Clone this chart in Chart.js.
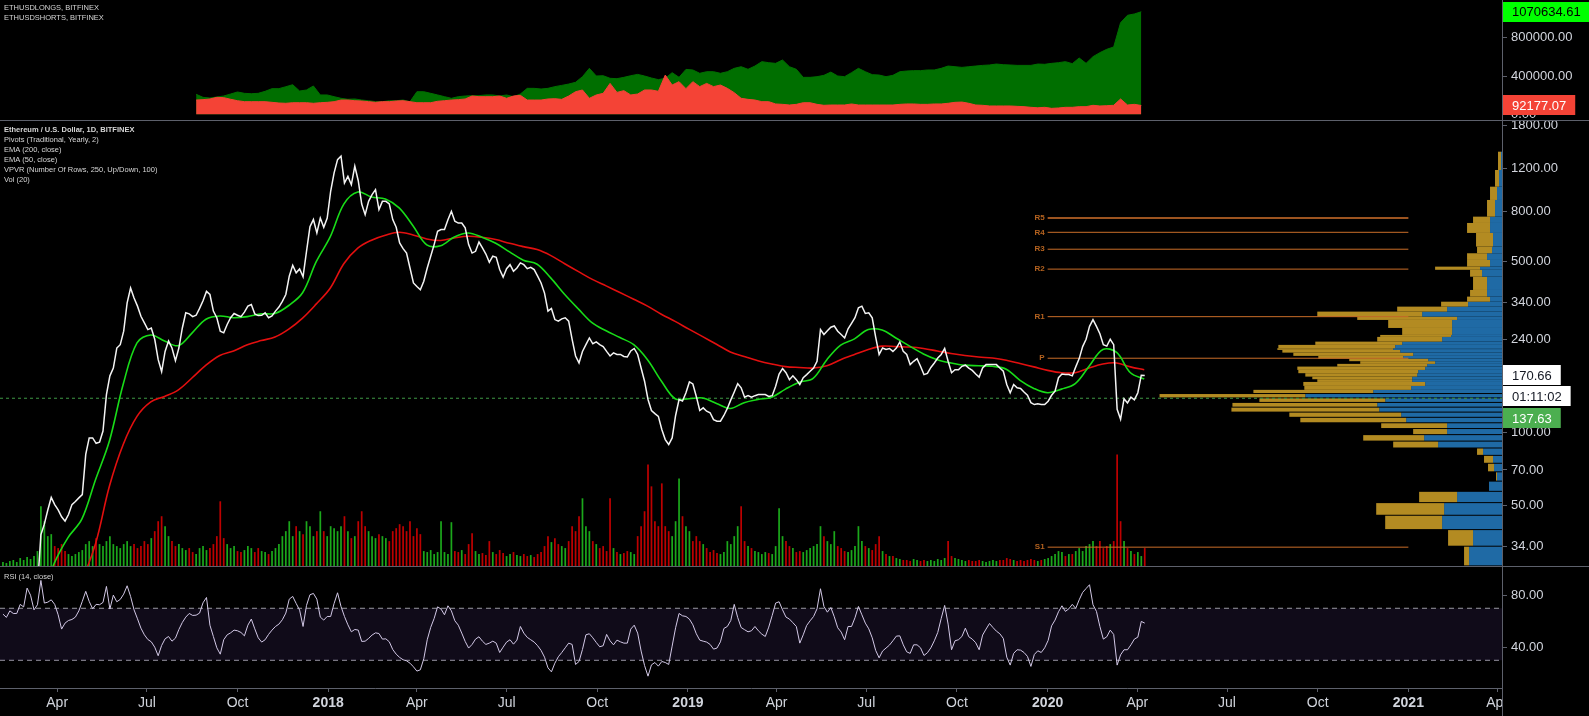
<!DOCTYPE html>
<html>
<head>
<meta charset="utf-8">
<script src="https://cdn.jsdelivr.net/npm/chart.js@4.4.1/dist/chart.umd.min.js"></script>
<style>
  html, body { margin: 0; background: #000; overflow: hidden; }
  #wrap { position: relative; width: 1589px; height: 716px; background: #000; }
  #wrap canvas { position: absolute; left: 0; }
  .sep { position: absolute; background: #5d606b; }
</style>
</head>
<body>
<div id="wrap">
  <canvas id="topChart" width="1589" height="120" style="top:0"></canvas>
  <canvas id="mainChart" width="1589" height="446" style="top:120px"></canvas>
  <canvas id="rsiChart" width="1589" height="150" style="top:566px"></canvas>
  <div class="sep" style="left:0;top:120px;width:1589px;height:1px"></div>
  <div class="sep" style="left:0;top:566px;width:1589px;height:1px"></div>
  <div class="sep" style="left:1502px;top:0;width:1px;height:716px"></div>
</div>
<script>
// ---- visible time range ----
const viewStart = "2017-02-02";
const viewEnd = "2021-04-06";

// ---- ETHUSD close, every 3.5 days from priceStart ----
const priceStart = "2017-02-05";
const priceStepDays = 3.5;
const priceClose = [
  11.3, 11.4, 11.6, 12.8, 12.9, 13.2, 15.4, 16.5, 19.2, 19.8,
  23, 38, 42, 48, 54, 50.5, 48, 45, 43.2, 46,
  50.5, 52, 53.8, 55.5, 81, 94.7, 94.7, 90, 91, 101,
  142.5, 170, 183, 221, 228, 259, 338, 389, 354, 328,
  298, 280, 263, 267, 240, 198, 177, 214, 236, 221,
  196, 221, 267, 308, 305, 297, 301, 321, 345, 377,
  366, 313, 294, 259, 255, 276, 294, 306, 301, 297,
  310, 328, 333, 305, 300, 301, 308, 294, 299, 313,
  325, 343, 366, 435, 482, 449, 466, 433, 550, 693,
  742, 654, 753, 690, 753, 969, 1152, 1305, 1350, 1047,
  1115, 1031, 1227, 1070, 859, 777, 881, 939, 984, 815,
  881, 881, 859, 742, 690, 595, 564, 541, 470, 408, 395, 383,
  415, 470, 525, 586, 664, 675, 675, 741, 802, 730,
  718, 718, 686, 586, 541, 550, 600, 568, 536, 496,
  525, 520, 463, 431, 467, 485, 456, 470, 493, 485,
  467, 473, 463, 435, 408, 371, 313, 321, 289, 284.5,
  291, 294, 284.5, 240, 205, 192, 214, 228, 243, 230,
  234, 228, 224, 214, 205, 211, 208, 208, 204, 203,
  215, 220, 208, 183, 161.6, 136, 122.6, 119, 116, 102.5,
  93.2, 89, 94.7, 117, 136, 134, 145, 160.5, 157.5, 140,
  122.6, 125.7, 121.8, 120, 112.5, 110.8, 110.8, 117, 125, 135.5,
  146, 158, 151.8, 139, 141, 139, 141, 142.5, 142.5, 142.5,
  140, 141, 154, 173, 182, 175, 164, 170, 164, 156.6,
  167, 172, 177.5, 183, 195, 263,
  251, 260, 269, 272, 259, 251, 243, 265, 279, 294,
  323, 328, 306, 308, 294, 245, 208, 221, 218, 220,
  214, 221, 234, 214, 208, 189, 195, 200, 186, 172,
  174, 184, 192, 201, 208, 220, 195, 175, 180, 180,
  186, 188, 183, 179, 173, 168, 183, 189, 189, 189,
  189, 183, 177.5, 156.6, 145, 156.6, 151.8, 151, 146, 141.5,
  132, 129.7, 130.5, 129.7, 129.7, 133.8, 141.5, 147, 167, 173,
  172, 172, 170, 185, 200, 224, 240, 271, 289, 271,
  253, 228, 225, 240, 228, 124, 113, 137, 131.7, 139,
  135.5, 145, 171, 170.66
];
// volume, same dates as priceClose (relative units)
const volume = [
  4, 3, 5, 6, 4, 8, 6, 9, 7, 10,
  15, 60, 45, 30, 32, 20, 18, 22, 15, 12,
  10, 12, 14, 16, 22, 25, 20, 28, 22, 20,
  25, 30, 22, 20, 18, 22, 25, 20, 22, 18,
  20, 25, 22, 28, 35, 45, 50, 40, 30, 25,
  20, 22, 18, 16, 18, 14, 12, 18, 20, 16,
  18, 22, 30, 65, 28, 22, 18, 20, 15, 14,
  16, 20, 18, 14, 18, 15, 14, 12, 15, 18,
  22, 30, 35, 45, 30, 40, 35, 32, 45, 40,
  30, 35, 55, 35, 30, 40, 38, 35, 40, 50,
  35, 28, 30, 45, 55, 40, 35, 30, 28, 32,
  30, 28, 25, 35, 38, 42, 40, 35, 45, 30, 38, 32,
  15, 14, 16, 12, 14, 45, 14, 12, 44, 15,
  14, 16, 12, 22, 33, 15, 12, 13, 11, 25,
  14, 12, 16, 13, 10, 12, 14, 11, 10, 12,
  10, 11, 9, 12, 14, 20, 30, 24, 28, 22,
  20, 18, 25, 40, 35, 50, 68, 40, 35, 25,
  22, 18, 20, 15, 68, 18, 14, 12, 13, 15,
  14, 12, 30, 40, 55, 102, 80, 45, 40, 83,
  40, 35, 30, 45, 88, 50, 40, 35, 25, 30,
  25, 22, 18, 14, 16, 13, 12, 14, 25, 22,
  30, 40, 60, 25, 20, 18, 15, 14, 12, 14,
  13, 12, 20, 58, 30, 25, 20, 18, 14, 15,
  14, 16, 18, 20, 22, 40,
  30, 25, 22, 35, 20, 18, 15, 14, 16, 20,
  40, 25, 20, 18, 16, 22, 30, 15, 12, 10,
  10, 8, 7, 6, 6, 5, 7, 6, 5, 6,
  5, 6, 5, 7, 6, 8, 25, 10, 8, 7,
  6, 5, 6, 5, 5, 6, 5, 4, 5, 6,
  5, 6, 6, 8, 7, 6, 5, 6, 5, 6,
  7, 6, 5, 6, 7, 8, 10, 12, 15, 14,
  10, 12, 12, 15, 18, 15, 20, 22, 25, 20,
  25, 18, 20, 22, 25, 112, 45, 25, 18, 15,
  12, 14, 10, 18
];
// RSI(14), same dates as priceClose
const rsi = [
  65.5, 63, 68, 66, 66, 73, 71, 85.5, 80, 68.8,
  72.7, 91.4, 74, 74.7, 76.5, 73, 65, 54, 58.6, 60.6,
  61.4, 63.2, 68, 75.3, 83, 75.3, 69.6, 73, 72.7, 74.5,
  86.8, 69.4, 80.1, 75, 76.8, 80.9, 87.3, 79.1, 68.8, 61.9,
  54.7, 49.6, 46, 44.2, 40.1, 33.5, 41.4, 46.5, 48.3, 44.7,
  47, 53.7, 59.1, 63.2, 66, 64.5, 64.7, 66.3, 74.2, 78.3,
  57, 48.3, 39.6, 34.7, 45.8, 49.6, 51.1, 53.2, 52.7, 51.4,
  48.8, 57, 61.7, 54.2, 47.3, 44, 45.8, 49.9, 53.2, 56,
  57.8, 61.2, 66.3, 77, 79.1, 73.7, 68.6, 56, 72.2, 80.4,
  81.4, 77, 63.2, 60.9, 63.7, 63.7, 73.7, 81.9, 71.4, 63.7,
  57.3, 51.9, 53.7, 53.2, 44.5, 44.7, 46.8, 49.4, 51.1, 50.6,
  46.3, 46.5, 44.2, 38.3, 34.7, 32.2, 30.4, 29.6, 27.8, 25,
  21.7, 22.7, 31.2, 45.8, 55.3, 62.2, 71.1, 69.4, 65, 71.9,
  68, 60.4, 57, 50.9, 44.5, 39.4, 42.2, 46.3, 48.1, 44.7,
  42.2, 43.2, 44.7, 43.2, 36, 40.1, 44, 45.8, 42.4, 45.5,
  56, 50.9, 47.6, 45.8, 44, 41.2, 37.6, 32.4, 24.2, 21.1,
  27.8, 32.7, 36, 39.6, 43.2, 42.2, 26.8, 29.1, 38.3, 49.6,
  50.4, 47.3, 43.7, 40.4, 41.2, 49.9, 45, 41.9, 45.5, 44.2,
  43.2, 43.2, 54, 57, 50.9, 37.1, 26, 17.8, 26.5, 28.3,
  25.5, 29.1, 28.3, 26.8, 40.9, 55, 66, 64.2, 63.7, 61.7,
  57.3, 50.4, 45.5, 44.7, 44, 42.2, 38.6, 39.4, 44.2, 54.5,
  56, 60.6, 73, 62.9, 55.2, 53.5, 51.9, 52.7, 56, 52.7,
  50.1, 48.3, 55.5, 64.5, 74, 75, 68.8, 63.2, 61.7, 58.9,
  56, 43.2, 49.6, 56.8, 60.4, 63.7, 69.6, 85, 71.4, 67,
  70.6, 63.5, 55, 51.7, 45.8, 56, 56, 62.7, 71.4, 65,
  58.6, 54.2, 47.3, 37.6, 31.9, 37.1, 39.4, 41.7, 45, 48.6,
  48.8, 41.9, 36.5, 35.3, 41.9, 41.9, 39.6, 33.7, 35.8, 39.6,
  45, 51.4, 62.2, 72.2, 57.8, 38.1, 45, 45.8, 48.3, 54.7,
  48.1, 46.3, 43.5, 38.1, 49.4, 54, 58.3, 55.2, 52.4, 50.4,
  46.8, 32.4, 26.3, 35.3, 38.1, 37.8, 36, 33, 25.3, 34.5,
  37.3, 36, 39.6, 45.3, 56.5, 60.9, 67.3, 71.9, 67.6, 69.6,
  73, 69.9, 76.5, 82.2, 85.2, 88.1, 72.7, 67.6, 56, 46.3,
  48.1, 53.2, 49.9, 26.3, 34.2, 38.1, 38.1, 41.9, 46.3, 47.8,
  59.9, 58.6
];

// ---- EMA lines, every 14 days ----
const emaStart = "2017-02-01";
const emaStepDays = 14;
const ema200 = [
  10, 11, 13, 15, 18, 21, 25, 35, 60, 89,
  116, 133, 140, 149, 167, 188, 206, 215, 228, 237,
  245, 264, 293, 335, 388, 490, 567, 611, 640, 658,
  642, 618, 609, 624, 634, 628, 615, 593, 575, 559,
  528, 489, 454, 422, 397, 373, 350, 328, 304, 284,
  264, 246, 229, 213, 204, 196, 190, 185.5, 184, 183,
  187, 198, 208, 218, 225, 224, 223, 220, 215, 210,
  206, 203, 201, 197, 191, 185, 179, 175, 175, 183,
  190, 192, 185, 180
];
const ema50 = [
  10, 12, 15, 20, 29, 37, 44, 64, 92, 157,
  232, 250, 236, 226, 255, 290, 299, 294, 297, 305,
  306, 330, 372, 500, 630, 860, 962, 918, 900, 828,
  700, 584, 580, 630, 654, 628, 593, 547, 506, 487,
  427, 366, 319, 280, 260, 244, 228, 198, 162, 137,
  137, 138, 131, 125, 132, 136, 139, 150, 160, 166,
  198, 227, 241, 263, 262, 243, 225, 209, 198, 192,
  188, 187, 186, 181, 163, 151, 145, 150, 158, 186,
  218, 212, 175, 165
];

// ---- ETHUSDLONGS / ETHUSDSHORTS (thousands), weekly ----
const lsStart = "2017-08-20";
const lsStepDays = 7;
const longsK = [
  209, 177, 170, 181, 191, 212, 233, 219, 215, 219,
  240, 268, 268, 288, 309, 243, 254, 296, 202, 202,
  184, 167, 157, 160, 149, 142, 132, 132, 142, 142,
  149, 132, 236, 236, 219, 202, 184, 167, 184, 191,
  195, 195, 202, 202, 191, 202, 184, 212, 271, 271,
  264, 271, 289, 302, 316, 334, 393, 480, 400, 403,
  376, 372, 386, 403, 417, 400, 379, 362, 376, 435,
  386, 469, 463, 428, 445, 445, 428, 445, 480, 497,
  470, 504, 550, 539, 532, 567, 497, 470, 386, 386,
  393, 407, 441, 400, 393, 435, 480, 445, 414, 410,
  393, 407, 445, 452, 456, 456, 463, 463, 480, 504,
  497, 490, 497, 504, 511, 515, 525, 518, 515, 511,
  511, 511, 525, 522, 532, 539, 550, 529, 588, 532,
  602, 644, 679, 703, 957, 1034, 1048, 1070.63461
];
const shortsK = [
  149, 153, 160, 177, 174, 157, 142, 132, 132, 132,
  132, 125, 118, 115, 121, 121, 121, 115, 121, 125,
  132, 149, 149, 142, 139, 132, 125, 132, 132, 139,
  142, 132, 121, 121, 121, 136, 142, 149, 153, 160,
  191, 184, 184, 184, 191, 167, 191, 198, 149, 149,
  149, 160, 163, 156, 191, 236, 254, 167, 202, 219,
  323, 229, 247, 202, 212, 254, 254, 240, 410, 306,
  341, 268, 341, 289, 323, 289, 306, 271, 226, 167,
  156, 149, 132, 132, 108, 104, 97, 104, 121, 121,
  104, 94, 97, 97, 97, 108, 97, 97, 97, 97,
  97, 97, 104, 108, 108, 104, 104, 108, 108, 115,
  125, 128, 115, 97, 94, 87, 87, 87, 87, 83,
  80, 73, 68, 73, 62, 66, 73, 73, 80, 80,
  94, 87, 90, 94, 160, 97, 104, 92.17707
];

// ---- yearly traditional pivots ----
const pivotNames = ["R5", "R4", "R3", "R2", "R1", "P", "S1"];
const pivotLevels = [753, 658, 561, 465, 297, 200.7, 33.8];
const pivotFrom = "2020-01-01";
const pivotTo = "2021-01-01";

// ---- VPVR rows: price edges, up volume, down volume (relative) ----
const vpEdges = [
  28.2, 33.95, 39.7, 45.45, 51.2, 56.95, 62.7, 68.45, 74.2, 79.95,
  85.7, 91.45, 97.2, 102.95, 108.7, 114.45, 120.2, 125.95, 131.7, 137.45,
  143.2, 148.95, 154.6, 160.5, 164.7, 168.8, 174.3, 179.8, 185.5, 190.3,
  195.2, 200, 205.2, 211.6, 217.1, 220.6, 227.6, 234.7, 245.4, 250,
  267, 288, 297, 311.5, 326.5, 342, 358.8, 382, 433, 462,
  476, 507, 540, 575, 654, 718.5, 762.6, 892.5, 1011.6, 1184, 1407
];
const vpUp = [
  33, 29, 60, 58, 45, 13, 5, 8, 9, 19,
  64, 78, 55, 55, 96, 101, 123, 125, 117, 197,
  129, 91, 77, 90, 90, 85, 84, 77, 75, 67,
  74, 99, 89, 102, 109, 107, 100, 60, 51, 50,
  50, 45, 80, 55, 34, 12, 15, 15, 20, 22,
  12, 15, 10, 9, 12, 12, 7, 5, 3, 1
];
const vpDown = [
  5, 25, 57, 68, 38, 0, 1, 6, 9, 6,
  45, 61, 34, 66, 106, 112, 148, 145, 126, 146,
  120, 107, 122, 95, 100, 112, 120, 128, 90, 75,
  79, 85, 120, 118, 116, 117, 87, 65, 71, 50,
  64, 100, 105, 50, 27, 23, 17, 14, 12, 45,
  23, 20, 15, 17, 23, 17, 8, 7, 4, 3
];

// ---- last values / markers ----
const lastPrice = 170.66;
const countdownText = "01:11:02";
const priceLineValue = 137.63;

// ---- axis ticks ----
const timeTickDates = [
  "2017-04-01", "2017-07-01", "2017-10-01", "2018-01-01", "2018-04-01", "2018-07-01",
  "2018-10-01", "2019-01-01", "2019-04-01", "2019-07-01", "2019-10-01", "2020-01-01",
  "2020-04-01", "2020-07-01", "2020-10-01", "2021-01-01", "2021-04-01"
];
const timeTickLabels = [
  "Apr", "Jul", "Oct", "2018", "Apr", "Jul", "Oct", "2019", "Apr", "Jul", "Oct",
  "2020", "Apr", "Jul", "Oct", "2021", "Apr"
];
const priceTicks = [34, 50, 70, 100, 240, 340, 500, 800, 1200, 1800];
const lsTicks = [0, 400000, 800000];
const rsiTicks = [40, 80];
const rsiBands = [70, 30];

// ---------------------------------------------------------------
const FONT = "'Liberation Sans', Arial, sans-serif";
const axisText = "#d1d4dc";
const lineGray = "#5d606b";
const AXIS_W = 87;

const day0 = Date.UTC(2017, 0, 1);
function dayNum(iso) {
  return (Date.parse(iso + "T00:00:00Z") - day0) / 864e5;
}
function series(startIso, step, values, mult) {
  const s = dayNum(startIso);
  return values.map((v, i) => ({ x: s + i * step, y: v * (mult || 1) }));
}

const xMin = dayNum(viewStart);
const xMax = dayNum(viewEnd);

function hiddenX() {
  return { type: "linear", min: xMin, max: xMax, display: false, offset: false };
}

function rightAxis(type, min, max, ticksList) {
  return {
    type: type,
    position: "right",
    min: min,
    max: max,
    afterBuildTicks: (s) => { s.ticks = ticksList.map((v) => ({ value: v })); },
    afterFit: (s) => {
      s.width = AXIS_W;
      s.paddingTop = 0;
      s.paddingBottom = 0;
    },
    grid: { drawOnChartArea: false, drawTicks: true, tickLength: 5, color: lineGray },
    border: { display: true, color: lineGray },
    ticks: {
      autoSkip: false,
      padding: 4,
      color: axisText,
      font: { family: FONT, size: 13 },
      callback: (v) => Number(v).toFixed(2),
    },
  };
}

function drawBadge(ctx, x, yc, text, bg, fg) {
  ctx.font = "13px " + FONT;
  const w = ctx.measureText(text).width + 18;
  ctx.fillStyle = bg;
  ctx.fillRect(x, Math.round(yc - 10), w, 20);
  ctx.fillStyle = fg;
  ctx.textAlign = "left";
  ctx.textBaseline = "middle";
  ctx.fillText(text, x + 9, yc + 0.5);
}

function drawLegend(ctx, lines, x, y0, step) {
  ctx.textAlign = "left";
  ctx.textBaseline = "middle";
  ctx.fillStyle = "#d6d6d6";
  lines.forEach((t, i) => {
    ctx.font = (i === 0 && lines.bold ? "bold " : "") + "7.5px " + FONT;
    ctx.fillText(t, x, y0 + i * step);
  });
}

const baseOptions = {
  responsive: false,
  animation: false,
  events: [],
  layout: { padding: 0 },
  plugins: { legend: { display: false }, tooltip: { enabled: false } },
};

// ---------------- top pane: longs / shorts ----------------
const topPlugin = {
  id: "topOverlay",
  afterDraw(chart) {
    const { ctx, chartArea, scales } = chart;
    const legend = ["ETHUSDLONGS, BITFINEX", "ETHUSDSHORTS, BITFINEX"];
    drawLegend(ctx, legend, 4, 7.5, 10.5);
    const x = chartArea.right + 1;
    const lastL = longsK[longsK.length - 1] * 1000;
    const lastS = shortsK[shortsK.length - 1] * 1000;
    drawBadge(ctx, x, scales.y.getPixelForValue(lastL), lastL.toFixed(2), "#00ff00", "#000");
    drawBadge(ctx, x, scales.y.getPixelForValue(lastS), lastS.toFixed(2), "#f44336", "#fff");
  },
};

new Chart(document.getElementById("topChart"), {
  type: "line",
  data: {
    datasets: [
      {
        label: "ETHUSDSHORTS",
        data: series(lsStart, lsStepDays, shortsK, 1000),
        borderColor: "#f44336",
        backgroundColor: "#f44336",
        borderWidth: 1,
        pointRadius: 0,
        fill: "origin",
        order: 0,
      },
      {
        label: "ETHUSDLONGS",
        data: series(lsStart, lsStepDays, longsK, 1000),
        borderColor: "#006f00",
        backgroundColor: "#006f00",
        borderWidth: 1,
        pointRadius: 0,
        fill: "origin",
        order: 1,
      },
    ],
  },
  options: Object.assign({}, baseOptions, {
    scales: {
      x: hiddenX(),
      y: rightAxis("linear", -59500, 1193800, lsTicks),
    },
  }),
  plugins: [topPlugin],
});

// ---------------- main pane: price, EMAs, pivots, volume, VPVR ----------------
const vpMaxTotal = Math.max(...vpUp.map((u, i) => u + vpDown[i]));
const vpvrWidthFrac = 0.228;
const volumeHeightFrac = 0.25;

const mainPlugin = {
  id: "mainOverlay",
  beforeDatasetsDraw(chart) {
    const { ctx, chartArea: a, scales } = chart;
    const y = scales.y, xv = scales.xv;
    ctx.save();
    ctx.beginPath();
    ctx.rect(a.left, a.top, a.width, a.height);
    ctx.clip();
    const x0 = xv.getPixelForValue(0);
    for (let i = 0; i < vpUp.length; i++) {
      const yTop = y.getPixelForValue(vpEdges[i + 1]);
      const yBot = y.getPixelForValue(vpEdges[i]);
      const h = yBot - yTop;
      const gap = h > 4 && vpEdges[i + 1] - vpEdges[i] < 7 ? 1 : 0;
      const x1 = xv.getPixelForValue(vpUp[i]);
      const x2 = xv.getPixelForValue(vpUp[i] + vpDown[i]);
      ctx.fillStyle = "#1f6aa5";
      ctx.fillRect(x1, yTop, x0 - x1, h - gap);
      ctx.fillStyle = "#b38b22";
      ctx.fillRect(x2, yTop, x1 - x2, h - gap);
    }
    ctx.restore();
  },
  afterDatasetsDraw(chart) {
    const { ctx, scales } = chart;
    const xs = scales.x.getPixelForValue(dayNum(pivotFrom)) - 3;
    ctx.save();
    ctx.font = "bold 8px " + FONT;
    ctx.fillStyle = "#b4621f";
    ctx.textAlign = "right";
    ctx.textBaseline = "middle";
    pivotNames.forEach((n, i) => {
      ctx.fillText(n, xs, scales.y.getPixelForValue(pivotLevels[i]));
    });
    ctx.restore();
  },
  afterDraw(chart) {
    const { ctx, chartArea, scales } = chart;
    const legend = [
      "Ethereum / U.S. Dollar, 1D, BITFINEX",
      "Pivots (Traditional, Yearly, 2)",
      "EMA (200, close)",
      "EMA (50, close)",
      "VPVR (Number Of Rows, 250, Up/Down, 100)",
      "Vol (20)",
    ];
    legend.bold = true;
    drawLegend(ctx, legend, 4, 10, 10);
    const x = chartArea.right + 1;
    const yl = scales.y.getPixelForValue(lastPrice);
    drawBadge(ctx, x, yl, lastPrice.toFixed(2), "#ffffff", "#131722");
    drawBadge(ctx, x, yl + 21, countdownText, "#ffffff", "#131722");
    drawBadge(ctx, x, yl + 43, priceLineValue.toFixed(2), "#4caf50", "#ffffff");
  },
};

const priceData = series(priceStart, priceStepDays, priceClose);
const volumeColors = priceClose.map((c, i) =>
  i === 0 || c >= priceClose[i - 1] ? "rgba(30, 185, 30, 0.9)" : "rgba(210, 0, 0, 0.9)"
);

const pivotSets = pivotLevels.map((lvl, i) => ({
  type: "line",
  label: pivotNames[i],
  data: [
    { x: dayNum(pivotFrom), y: lvl },
    { x: dayNum(pivotTo), y: lvl },
  ],
  borderColor: i === 0 ? "#9c5420" : "#c96d28",
  borderWidth: i === 0 ? 2 : 1,
  pointRadius: 0,
  order: 3,
}));

new Chart(document.getElementById("mainChart"), {
  type: "line",
  data: {
    datasets: [
      {
        type: "line",
        label: "ETHUSD",
        data: priceData,
        borderColor: "#f4f4f4",
        borderWidth: 1.5,
        pointRadius: 0,
        order: 0,
      },
      {
        type: "line",
        label: "EMA 50",
        data: series(emaStart, emaStepDays, ema50),
        borderColor: "#18dc18",
        borderWidth: 1.6,
        pointRadius: 0,
        tension: 0.35,
        order: 1,
      },
      {
        type: "line",
        label: "EMA 200",
        data: series(emaStart, emaStepDays, ema200),
        borderColor: "#e30f0f",
        borderWidth: 1.6,
        pointRadius: 0,
        tension: 0.35,
        order: 2,
      },
      ...pivotSets,
      {
        type: "line",
        label: "price line",
        data: [
          { x: xMin, y: priceLineValue },
          { x: xMax, y: priceLineValue },
        ],
        borderColor: "#3f9a46",
        borderWidth: 1,
        borderDash: [3, 3],
        pointRadius: 0,
        order: 4,
      },
      {
        type: "bar",
        label: "Vol",
        data: series(priceStart, priceStepDays, volume),
        backgroundColor: volumeColors,
        yAxisID: "yv",
        barPercentage: 0.5,
        categoryPercentage: 1,
        order: 5,
      },
    ],
  },
  options: Object.assign({}, baseOptions, {
    scales: {
      x: hiddenX(),
      xv: {
        type: "linear",
        axis: "x",
        position: "top",
        display: false,
        reverse: true,
        min: 0,
        max: vpMaxTotal / vpvrWidthFrac,
      },
      y: rightAxis("logarithmic", 28.3, 1897, priceTicks),
      yv: {
        type: "linear",
        position: "left",
        display: false,
        min: 0,
        max: Math.max(...volume) / volumeHeightFrac,
      },
    },
  }),
  plugins: [mainPlugin],
});

// ---------------- RSI pane + time axis ----------------
const rsiPlugin = {
  id: "rsiOverlay",
  afterDraw(chart) {
    const { ctx, chartArea } = chart;
    ctx.fillStyle = "#000";
    ctx.fillRect(chartArea.right + 1, chartArea.bottom + 1, chart.width - chartArea.right, 40);
    drawLegend(ctx, ["RSI (14, close)"], 4, 11, 10);
  },
};

const isYear = (i) => /^\d{4}$/.test(timeTickLabels[i] || "");

new Chart(document.getElementById("rsiChart"), {
  type: "line",
  data: {
    datasets: [
      {
        label: "RSI",
        data: series(priceStart, priceStepDays, rsi),
        borderColor: "#d2c8e6",
        borderWidth: 1,
        pointRadius: 0,
        order: 0,
      },
      {
        label: "upper band",
        data: [
          { x: xMin, y: rsiBands[0] },
          { x: xMax, y: rsiBands[0] },
        ],
        borderColor: "#9a9aa2",
        borderWidth: 1,
        borderDash: [5, 4],
        pointRadius: 0,
        fill: { value: rsiBands[1] },
        backgroundColor: "rgba(126, 87, 194, 0.13)",
        order: 1,
      },
      {
        label: "lower band",
        data: [
          { x: xMin, y: rsiBands[1] },
          { x: xMax, y: rsiBands[1] },
        ],
        borderColor: "#9a9aa2",
        borderWidth: 1,
        borderDash: [5, 4],
        pointRadius: 0,
        order: 1,
      },
    ],
  },
  options: Object.assign({}, baseOptions, {
    scales: {
      x: {
        type: "linear",
        position: "bottom",
        min: xMin,
        max: xMax,
        offset: false,
        afterBuildTicks: (s) => {
          s.ticks = timeTickDates.map((d) => ({ value: dayNum(d) }));
        },
        afterFit: (s) => {
          s.height = 28;
          s.paddingLeft = 0;
          s.paddingRight = 0;
        },
        grid: { drawOnChartArea: false, drawTicks: true, tickLength: 4, color: lineGray },
        border: { display: true, color: lineGray },
        ticks: {
          autoSkip: false,
          maxRotation: 0,
          padding: 3,
          color: axisText,
          font: (c) => ({ family: FONT, size: 14, weight: isYear(c.index) ? "bold" : "normal" }),
          callback: (v, i) => timeTickLabels[i],
        },
      },
      y: rightAxis("linear", 8.7, 102.5, rsiTicks),
    },
  }),
  plugins: [rsiPlugin],
});
</script>
</body>
</html>
